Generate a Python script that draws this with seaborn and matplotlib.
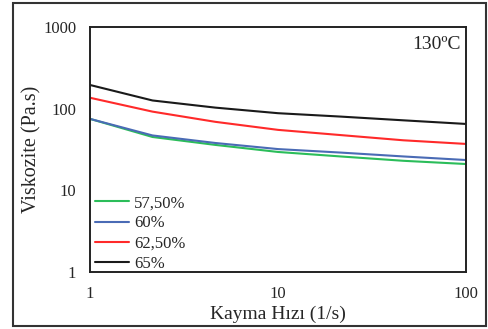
import numpy as np
import pandas as pd
import matplotlib
matplotlib.use("Agg")
import matplotlib.pyplot as plt
import seaborn as sns

# shear rate (1/s) and viscosity (Pa.s)
shear_rate = [1, 2.15, 4.64, 10, 21.5, 46.4, 100]
visc_5750 = [75, 45, 36, 29.5, 26, 23, 21]
visc_60 = [75, 47, 38, 32, 29, 26, 23.5]
visc_6250 = [136, 92, 69, 55, 47.5, 41, 37]
visc_65 = [195, 126, 103, 88, 80, 72, 65]

series_names = ["57,50%", "60%", "62,50%", "65%"]
colors = ["#2bbd5a", "#4a6bb5", "#ff2a2a", "#1a1a1a"]

df = pd.concat([
    pd.DataFrame({"rate": shear_rate, "visc": v, "conc": n})
    for n, v in zip(series_names, [visc_5750, visc_60, visc_6250, visc_65])
])

sns.set_style("white")
plt.rcParams['font.family'] = ['Liberation Serif', 'DejaVu Serif']

fig = plt.figure(figsize=(4.89, 3.29), dpi=100)
ax = fig.add_axes([90/489, 1-272/329, 376/489, 245/329])

sns.lineplot(data=df, x="rate", y="visc", hue="conc", palette=colors,
             hue_order=series_names, linewidth=1.5, ax=ax)

ax.set_xscale("log")
ax.set_yscale("log")
ax.set_xlim(1, 100)
ax.set_ylim(1, 1000)
ax.set_xticks([1, 10, 100])
ax.set_xticklabels(["1", "10", "100"])
ax.set_yticks([1, 10, 100, 1000])
ax.set_yticklabels(["1", "10", "100", "1000"])
ax.minorticks_off()
ax.tick_params(length=0, labelsize=12)
ax.tick_params(axis="x", pad=10)
ax.tick_params(axis="y", pad=10)
for s in ax.spines.values():
    s.set_color("#222222")
    s.set_linewidth(1.4)

ax.set_xlabel("Kayma Hızı (1/s)", fontsize=14, labelpad=3)
ax.set_ylabel("Viskozite (Pa.s)", fontsize=14.5)
ax.yaxis.set_label_coords(-0.128, 0.5)
ax.text(0.985, 0.965, "130ºC", transform=ax.transAxes, ha="right", va="top",
        fontsize=14)

leg = ax.legend(loc="lower left", frameon=False, fontsize=12, handlelength=2.0,
                handletextpad=0.3, labelspacing=0.25, borderaxespad=0.2,
                bbox_to_anchor=(-0.012, -0.04))

# outer frame of the picture
fig.add_artist(plt.Rectangle((13/489, 1-326/329), 473/489, 323/329,
                             transform=fig.transFigure, fill=False,
                             edgecolor="#333333", linewidth=1.5))

fig.savefig("out.png", dpi=100)
